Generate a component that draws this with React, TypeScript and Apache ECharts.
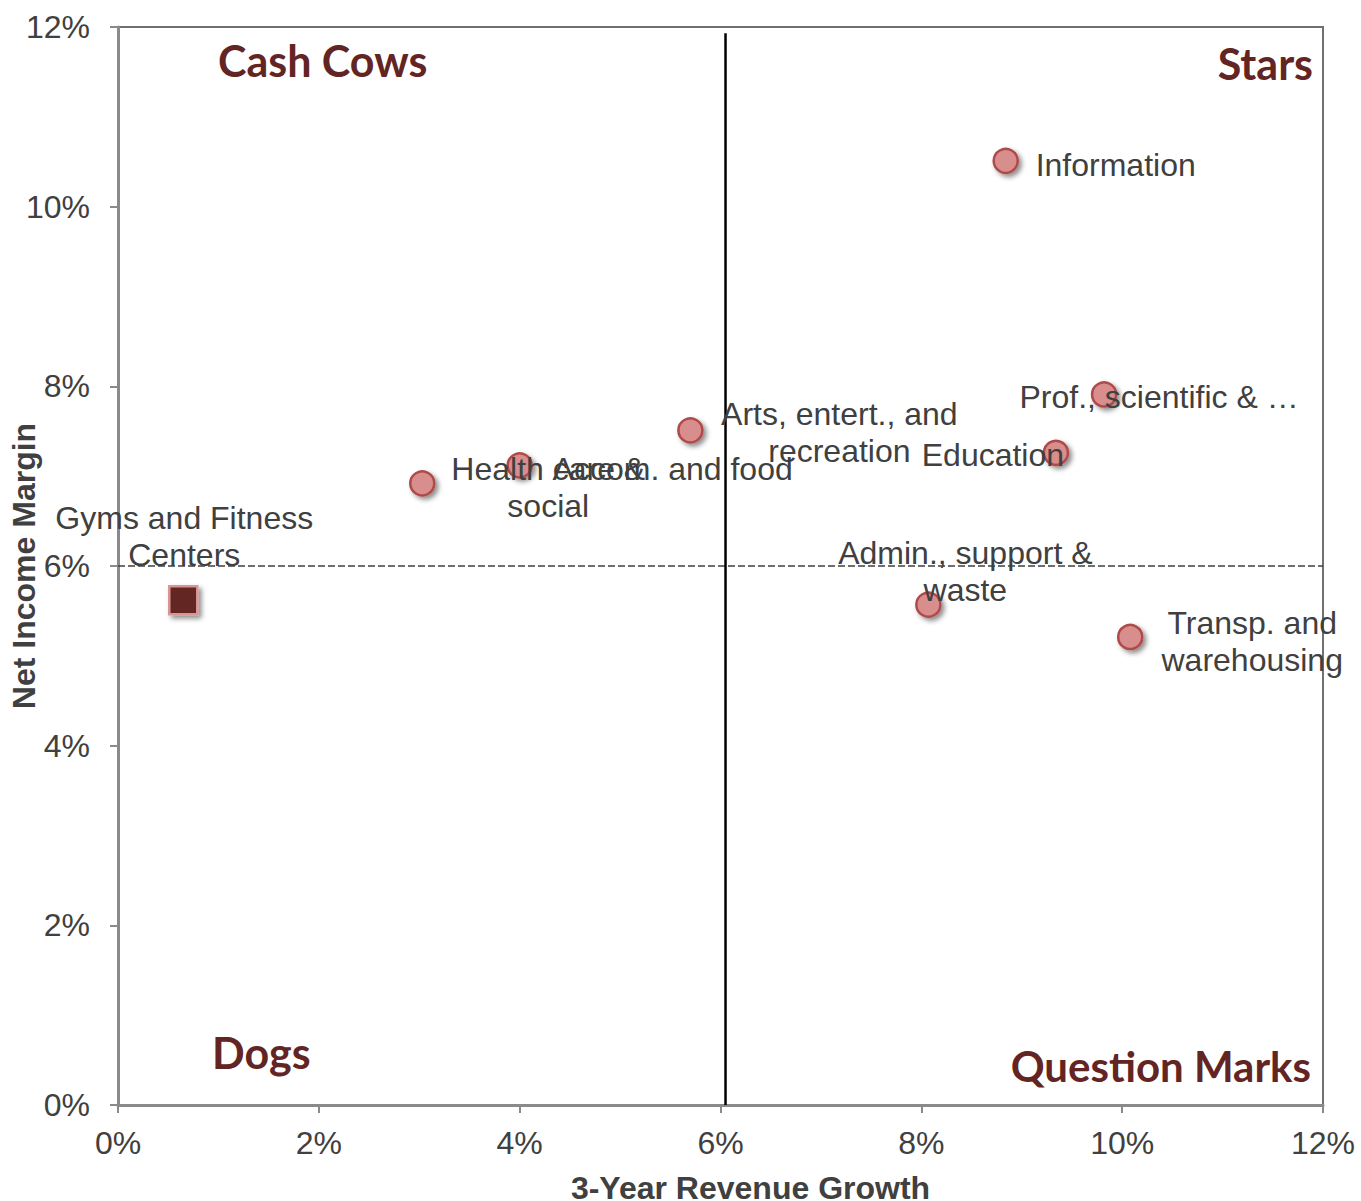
import React, { useEffect, useRef } from "react";
import * as echarts from "echarts";

const industries = [
  "Health care &\nsocial",
  "Accom. and food",
  "Arts, entert., and\nrecreation",
  "Information",
  "Prof., scientific & …",
  "Education",
  "Admin., support &\nwaste",
  "Transp. and\nwarehousing",
];
const revenueGrowth = [3.03, 4.0, 5.7, 8.84, 9.82, 9.34, 8.07, 10.08];
const netMargin = [6.92, 7.12, 7.51, 10.51, 7.91, 7.26, 5.57, 5.21];

const focusName = "Gyms and Fitness\nCenters";
const focusGrowth = 0.65;
const focusMargin = 5.62;

const medianGrowth = 6.05;
const medianMargin = 6.0;

const xTicks = [0, 2, 4, 6, 8, 10, 12];
const yTicks = [0, 2, 4, 6, 8, 10, 12];

// label offsets (style, not data)
const labelOffsets = [
  [126, 4],
  [153, 4],
  [149, 2],
  [110, 4],
  [55, 3],
  [-63, 2],
  [37, -33],
  [122, 5],
];
const focusOffset = [1, -64];

const LABEL_FONT = "'Liberation Sans', Arial, sans-serif";
const QUAD_COLOR = "#632523";

export default function App() {
  const ref = useRef<HTMLDivElement>(null);
  useEffect(() => {
    if (!ref.current) return;
    const chart = echarts.init(ref.current, undefined, { renderer: "svg" });
    const labelStyle = {
      show: true,
      position: "inside",
      fontFamily: LABEL_FONT,
      fontSize: 32,
      color: "#404040",
      lineHeight: 37,
      align: "center",
      verticalAlign: "middle",
    };
    const option: any = {
      animation: false,
      backgroundColor: "#ffffff",
      grid: {
        left: 118,
        top: 27,
        right: 38,
        bottom: 96,
        containLabel: false,
        outerBoundsMode: "none",
        show: true,
        borderColor: "#707070",
        borderWidth: 2,
        backgroundColor: "transparent",
      },
      xAxis: {
        type: "value",
        min: xTicks[0],
        max: xTicks[xTicks.length - 1],
        interval: 2,
        name: "3-Year Revenue Growth",
        nameLocation: "middle",
        nameGap: 67,
        nameTextStyle: {
          fontFamily: LABEL_FONT,
          fontWeight: "bold",
          fontSize: 32,
          color: "#404040",
          padding: [0, 0, 0, 60],
        },
        axisLine: { show: true, onZero: false, lineStyle: { color: "#8a8a8a", width: 3 } },
        axisTick: { show: true, length: 8, lineStyle: { color: "#8a8a8a", width: 2 } },
        splitLine: { show: false },
        axisLabel: {
          formatter: (v: number) => `${v}%`,
          fontFamily: LABEL_FONT,
          fontSize: 32,
          color: "#404040",
          margin: 22,
        },
      },
      yAxis: {
        type: "value",
        min: yTicks[0],
        max: yTicks[yTicks.length - 1],
        interval: 2,
        name: "Net Income Margin",
        nameLocation: "middle",
        nameMoveOverlap: false,
        nameGap: 78,
        nameTextStyle: {
          fontFamily: LABEL_FONT,
          fontWeight: "bold",
          fontSize: 32,
          color: "#404040",
        },
        axisLine: { show: true, onZero: false, lineStyle: { color: "#8a8a8a", width: 3 } },
        axisTick: { show: true, length: 8, lineStyle: { color: "#8a8a8a", width: 2 } },
        splitLine: { show: false },
        axisLabel: {
          formatter: (v: number) => `${v}%`,
          fontFamily: LABEL_FONT,
          fontSize: 32,
          color: "#404040",
          margin: 28,
        },
      },
      series: [
        {
          type: "line",
          data: [
            [0, medianMargin],
            [12, medianMargin],
          ],
          symbol: "none",
          silent: true,
          lineStyle: { color: "#404040", width: 1.5, type: [7, 3] },
          z: 1,
        },
        {
          type: "line",
          data: [
            [medianGrowth, 0],
            [medianGrowth, 11.93],
          ],
          symbol: "none",
          silent: true,
          lineStyle: { color: "#000000", width: 2.5 },
          z: 1,
        },
        {
          type: "scatter",
          symbol: "circle",
          symbolSize: 24,
          itemStyle: {
            opacity: 1,
            color: "#d98e8e",
            borderColor: "#b04a48",
            borderWidth: 2.5,
            shadowBlur: 5,
            shadowOffsetX: 3,
            shadowOffsetY: 3,
            shadowColor: "rgba(0,0,0,0.45)",
          },
          data: industries.map((n, i) => ({
            name: n,
            value: [revenueGrowth[i], netMargin[i]],
            label: { ...labelStyle, formatter: n, offset: labelOffsets[i] },
          })),
          z: 3,
        },
        {
          type: "scatter",
          symbol: "rect",
          symbolSize: 28,
          itemStyle: {
            opacity: 1,
            color: QUAD_COLOR,
            borderColor: "#d99594",
            borderWidth: 2.5,
            shadowBlur: 5,
            shadowOffsetX: 3,
            shadowOffsetY: 3,
            shadowColor: "rgba(0,0,0,0.45)",
          },
          data: [
            {
              name: focusName,
              value: [focusGrowth, focusMargin],
              label: { ...labelStyle, formatter: focusName, offset: focusOffset },
            },
          ],
          z: 3,
        },
      ],
      graphic: [
        {
          type: "text",
          left: 218,
          top: 39,
          style: { text: "Cash Cows", fontFamily: "Lato", fontWeight: "bold", fontSize: 43, fill: QUAD_COLOR },
        },
        {
          type: "text",
          right: 48,
          top: 42,
          style: { text: "Stars", fontFamily: "Lato", fontWeight: "bold", fontSize: 43, fill: QUAD_COLOR },
        },
        {
          type: "text",
          left: 212,
          top: 1031,
          style: { text: "Dogs", fontFamily: "Lato", fontWeight: "bold", fontSize: 43, fill: QUAD_COLOR },
        },
        {
          type: "text",
          right: 50,
          top: 1045,
          style: { text: "Question Marks", fontFamily: "Lato", fontWeight: "bold", fontSize: 42, fill: QUAD_COLOR },
        },
      ],
    };
    chart.setOption(option);
    return () => chart.dispose();
  }, []);
  return (
    <div
      ref={ref}
      style={{ position: "fixed", left: 0, top: 0, width: 1361, height: 1201, background: "#fff" }}
    />
  );
}
